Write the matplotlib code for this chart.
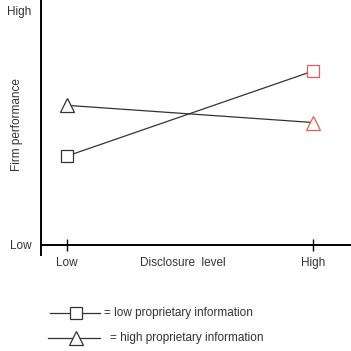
import matplotlib
matplotlib.use("Agg")
import matplotlib.pyplot as plt
from matplotlib.lines import Line2D

# Data
levels = ["Low", "High"]
x_pos = [0, 1]
low_prop = [3.63, 7.1]    # squares
high_prop = [5.7, 5.0]    # triangles
y_labels = ["Low", "High"]
legend_labels = ["= low proprietary information", "= high proprietary information"]

line_col = "#333333"
red = "#ee5b55"

W = H = 351
fig = plt.figure(figsize=(3.51, 3.51), dpi=100)
ax = fig.add_axes([41 / W, 1 - 245 / H, 1 - 41 / W, 245 / H])
ax.set_xlim(-(67 - 41) / 246, (351 - 67) / 246)
ax.set_ylim(0, 10)

for vals, m, ms in [(low_prop, "s", 8), (high_prop, "^", 10)]:
    ax.plot(x_pos, vals, color=line_col, lw=0.9, zorder=2)
    ax.plot(x_pos[0], vals[0], marker=m, ms=ms, mfc="white", mec=line_col, mew=0.9, ls="none", zorder=3)
    ax.plot(x_pos[1], vals[1], marker=m, ms=ms, mfc="white", mec=red, mew=0.9, ls="none", zorder=3)

for s in ["top", "right"]:
    ax.spines[s].set_visible(False)
ax.spines["left"].set_linewidth(1.4)
ax.spines["bottom"].set_linewidth(1.4)
ax.spines["left"].set_bounds(-0.4, 10)
ax.set_yticks([])
ax.set_xticks(x_pos)
fs = 8.5
ax.set_xticklabels(levels, fontsize=fs, color="#333333", fontfamily="Liberation Sans")
ax.tick_params(axis="x", direction="inout", length=9, width=1, pad=4)

fig.text(10 / W, 1 - 246 / H, y_labels[0], fontsize=fs, ha="left", va="center", color="#333333", family="Liberation Sans")
fig.text(7 / W, 1 - 12 / H, y_labels[1], fontsize=fs, ha="left", va="center", color="#333333", family="Liberation Sans")
fig.text(183 / W, 1 - 263 / H, "Disclosure  level", fontsize=fs, ha="center", va="center", color="#333333", family="Liberation Sans")
fig.text(17 / W, 1 - 125 / H, "Firm performance", fontsize=fs, ha="center", va="center", rotation=90, color="#333333", family="Liberation Sans")

# Legend drawn manually
for (y, m, ms, x0, x1, tx, lab) in [(313, "s", 8, 50, 100, 104, legend_labels[0]),
                                     (338, "^", 10, 48, 100, 110, legend_labels[1])]:
    fy = 1 - y / H
    fig.add_artist(Line2D([x0 / W, x1 / W], [fy, fy], color=line_col, lw=0.9, transform=fig.transFigure))
    fig.add_artist(Line2D([76 / W], [fy], marker=m, ms=ms, mfc="white", mec=line_col, mew=0.9, ls="none", transform=fig.transFigure))
    fig.text(tx / W, fy, lab, fontsize=fs, ha="left", va="center", color="#333333", family="Liberation Sans")

fig.savefig("out.png", dpi=100, facecolor="white")
